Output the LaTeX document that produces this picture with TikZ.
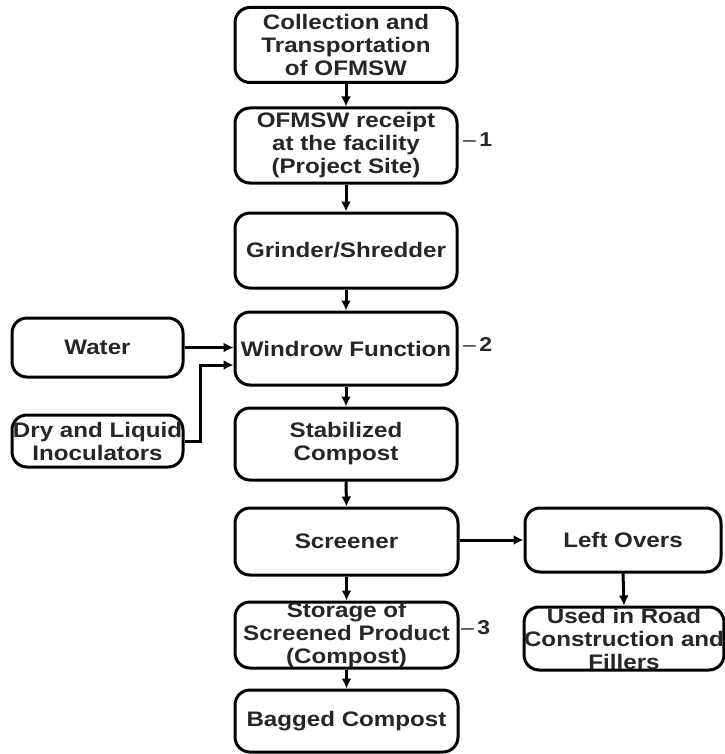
\documentclass[tikz,border=0pt]{standalone}
\usepackage{fontspec}
\setmainfont[FakeStretch=1.15]{Liberation Sans}
\usetikzlibrary{arrows.meta}
\begin{document}
\begin{tikzpicture}[x=1pt,y=-1pt,
  box/.style={draw=black, line width=3pt, rounded corners=15pt, align=center,
    inner sep=0pt, font=\fontsize{21}{23}\selectfont\bfseries, text=black!85},
  arr/.style={line width=3pt, -{Latex[length=10pt,width=10pt]}},
  lab/.style={font=\fontsize{20}{22}\selectfont\bfseries, text=black!85, anchor=west, inner sep=0pt}]
\useasboundingbox (0,0) rectangle (724,754);
\fill[white] (0,0) rectangle (724,754);
\node[box, minimum width=222pt, minimum height=75pt] (c1) at (346,45) {Collection and\\Transportation\\of OFMSW};
\node[box, minimum width=222pt, minimum height=75pt] (c2) at (346,145.5) {OFMSW receipt\\at the facility\\(Project Site)};
\node[box, minimum width=222pt, minimum height=75pt] (c3) at (346,250.5) {Grinder/Shredder};
\node[box, minimum width=222pt, minimum height=73pt] (c4) at (346,348.5) {Windrow Function};
\node[box, minimum width=171pt, minimum height=59pt] (water) at (97.5,347.5) {Water};
\node[box, minimum width=171pt, minimum height=52pt] (dry) at (97.5,441) {Dry and Liquid\\Inoculators};
\node[box, minimum width=222pt, minimum height=72pt] (c5) at (346,444) {Stabilized\\Compost};
\node[box, minimum width=223pt, minimum height=67pt] (c6) at (346.5,541.5) {Screener};
\node[box, minimum width=196pt, minimum height=64pt] (left) at (623,540) {Left Overs};
\node[box, minimum width=194pt, minimum height=63pt] (used) at (624,638.5) {Used in Road\\Construction and\\Fillers};
\node[box, minimum width=223pt, minimum height=66pt] (c7) at (346.5,635) {Storage of\\Screened Product\\(Compost)};
\node[box, minimum width=223pt, minimum height=62pt] (c8) at (346.5,721) {Bagged Compost};
\node[lab] (l1) at (463,140) {{\mdseries\textendash}\,1};
\node[lab] (l2) at (463,345) {{\mdseries\textendash}\,2};
\node[lab] (l3) at (461,628) {{\mdseries\textendash}\,3};
\draw[arr] (c1.south) -- (c2.north);
\draw[arr] (c2.south) -- (c3.north);
\draw[arr] (c3.south) -- (c4.north);
\draw[arr] (c4.south) -- (c5.north);
\draw[arr] (c5.south) -- (c6.north);
\draw[arr] (c6.south) -- (c7.north);
\draw[arr] (c7.south) -- (c8.north);
\draw[arr] (water.east) -- (water.east -| c4.west);
\coordinate (din) at ([yshift=-16.5pt]c4.west);
\draw[arr] (dry.east) -- (200,441) |- (din);
\draw[arr] (c6.east |- left.west) -- (left.west);
\draw[arr] (left.south) -- (used.north);
\end{tikzpicture}
\end{document}
